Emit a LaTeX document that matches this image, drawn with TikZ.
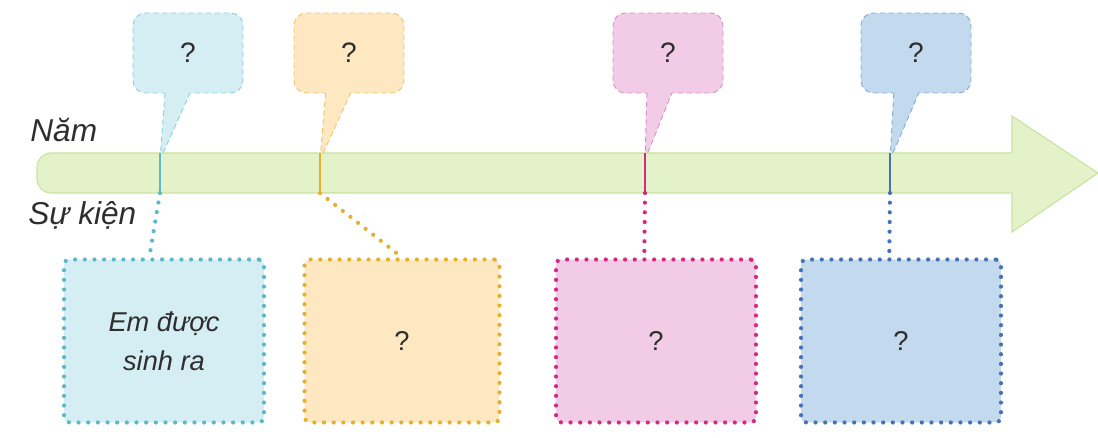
\documentclass[tikz,border=0pt]{standalone}
\usepackage{fontspec}
\setmainfont{Liberation Sans}
\usetikzlibrary{shapes.callouts}

\definecolor{cyanfill}{HTML}{D4EEF3}
\definecolor{cyanline}{HTML}{8FCFDB}
\definecolor{cyandot}{HTML}{5FB8C8}
\definecolor{orgfill}{HTML}{FDE8C2}
\definecolor{orgline}{HTML}{EFC46A}
\definecolor{orgdot}{HTML}{E5B02E}
\definecolor{pinkfill}{HTML}{F2CCE6}
\definecolor{pinkline}{HTML}{D692C2}
\definecolor{pinkdot}{HTML}{D42A82}
\definecolor{bluefill}{HTML}{C3D9EE}
\definecolor{blueline}{HTML}{85ACD6}
\definecolor{bluedot}{HTML}{4573B5}
\definecolor{barfill}{HTML}{E3F2C8}
\definecolor{barline}{HTML}{C9E19F}
\definecolor{txt}{HTML}{2E2E2E}

\tikzset{
	bubble/.style={rectangle callout, rounded corners=7pt, minimum width=2.2cm, minimum height=1.6cm, callout pointer width=0.5cm, densely dashed, line width=0.5pt, text=txt, font=\fontsize{16}{18}\selectfont},
	eventbox/.style={rectangle, rounded corners=3pt, minimum width=4cm, minimum height=3.26cm, line width=2.4pt, dash pattern=on 0pt off 5.5pt, line cap=round, text=txt, align=center, font=\itshape\fontsize{15.5}{22}\selectfont},
	dotlink/.style={line width=2.4pt, dash pattern=on 0pt off 5.5pt, line cap=round},
	axislabel/.style={anchor=west, inner sep=0pt, text=txt, font=\itshape\fontsize{18}{20}\selectfont}
}

\begin{document}
\begin{tikzpicture}[x=0.02cm,y=-0.02cm]
	\useasboundingbox (0,0) rectangle (1098,438);
	
	\fill[barfill, rounded corners=8pt] (1020,153) -- (37,153) -- (37,193) -- (1020,193) -- cycle;
	\draw[barline, line width=0.6pt, rounded corners=8pt] (1012,153) -- (37,153) -- (37,193) -- (1012,193);
	\draw[barline, fill=barfill, line width=0.6pt] (1012,153) -- (1012,116) -- (1098,173) -- (1012,232) -- (1012,193);
	
	\coordinate (t1) at (160,153); \coordinate (b1) at (160,193);
	\coordinate (t2) at (320,153); \coordinate (b2) at (320,193);
	\coordinate (t3) at (645,153); \coordinate (b3) at (645,193);
	\coordinate (t4) at (890,153); \coordinate (b4) at (890,193);
	\coordinate (p1) at (160,160); \coordinate (p2) at (320,160);
	\coordinate (p3) at (645,160); \coordinate (p4) at (890,160);
	
	\node[axislabel] (nam) at (30,130) {Năm};
	\node[axislabel] (sukien) at (28,215) {Sự kiện};
	
	\node[bubble, fill=cyanfill, draw=cyanline, callout absolute pointer={(p1)}] (q1) at (188,53) {?};
	\node[bubble, fill=orgfill, draw=orgline, callout absolute pointer={(p2)}] (q2) at (349,53) {?};
	\node[bubble, fill=pinkfill, draw=pinkline, callout absolute pointer={(p3)}] (q3) at (668,53) {?};
	\node[bubble, fill=bluefill, draw=blueline, callout absolute pointer={(p4)}] (q4) at (916,53) {?};
	
	\draw[cyandot, line width=0.8pt] (t1) -- (b1);
	\draw[orgdot, line width=1.5pt] (t2) -- (b2);
	\draw[pinkdot, line width=1.5pt] (t3) -- (b3);
	\draw[bluedot, line width=0.8pt] (t4) -- (b4);
	
	\node[eventbox, fill=cyanfill, draw=cyandot] (e1) at (164,341) {Em được\\sinh ra};
	\node[eventbox, fill=orgfill, draw=orgdot, minimum width=3.9cm] (e2) at (402,341) {\upshape ?};
	\node[eventbox, fill=pinkfill, draw=pinkdot] (e3) at (656,341) {\upshape ?};
	\node[eventbox, fill=bluefill, draw=bluedot] (e4) at (901,341) {\upshape ?};
	
	\draw[dotlink, cyandot] (b1) -- (e1.100);
	\draw[dotlink, orgdot] (b2) -- (e2.north);
	\draw[dotlink, pinkdot] (b3) -- (e3.98);
	\draw[dotlink, bluedot] (b4) -- (e4.98);
\end{tikzpicture}
\end{document}
